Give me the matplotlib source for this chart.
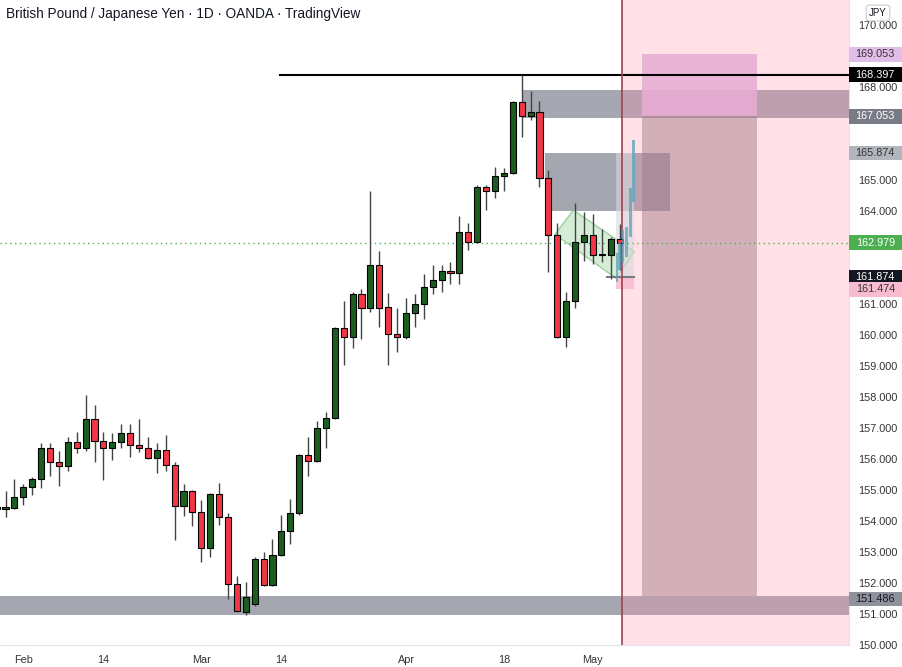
import matplotlib
matplotlib.use("Agg")
import matplotlib.pyplot as plt
from matplotlib.patches import Rectangle, Polygon
from matplotlib.transforms import blended_transform_factory

# daily GBPJPY bars, index 0 = Feb 1
bar_idx = list(range(-3, 68))
opens = [154.40, 154.38, 154.43, 154.78, 155.11, 155.34, 156.35, 155.89, 155.76, 156.54,
         156.35, 157.28, 156.58, 156.35, 156.54, 156.83, 156.44, 156.35, 156.03, 156.29,
         155.80, 154.49, 154.97, 154.29, 153.12, 154.86, 154.12, 151.97, 151.07, 151.33,
         152.77, 151.94, 152.90, 153.68, 154.27, 156.12, 155.95, 156.99, 157.31, 160.22,
         159.95, 161.32, 160.88, 162.26, 160.90, 160.02, 159.93, 160.72, 161.01, 161.56,
         161.77, 162.06, 161.99, 163.33, 163.01, 164.78, 164.65, 165.13, 165.22, 167.53,
         167.07, 167.20, 165.07, 163.23, 159.95, 161.10, 163.01, 163.23, 162.57, 162.57,
         163.09]
highs = [154.47, 154.97, 155.35, 155.19, 155.43, 156.51, 156.51, 156.25, 156.72, 156.86,
         158.06, 157.73, 156.86, 156.83, 157.13, 157.13, 157.29, 156.72, 156.51, 156.77,
         155.90, 155.18, 155.00, 154.68, 154.91, 155.24, 154.25, 152.23, 152.04, 152.85,
         152.99, 153.41, 154.19, 154.71, 156.15, 156.72, 157.24, 157.51, 160.25, 161.11,
         161.40, 161.49, 164.65, 162.71, 161.36, 160.87, 161.20, 161.31, 161.97, 162.26,
         162.26, 162.36, 163.85, 163.60, 164.84, 164.84, 165.43, 165.40, 167.56, 168.40,
         167.88, 167.55, 165.32, 163.60, 161.40, 164.25, 163.98, 163.90, 163.41, 163.15,
         163.58]
lows = [154.35, 154.12, 154.40, 154.52, 154.84, 155.07, 155.46, 155.14, 155.62, 156.19,
        156.26, 155.89, 155.32, 155.97, 156.37, 156.06, 156.24, 156.00, 155.54, 155.62,
        153.39, 154.17, 153.85, 152.69, 152.83, 153.87, 151.48, 151.05, 150.97, 151.27,
        151.90, 151.91, 152.88, 153.25, 154.19, 155.46, 155.89, 156.37, 157.28, 159.03,
        159.59, 159.86, 160.75, 160.27, 159.03, 159.45, 159.87, 160.27, 160.52, 161.32,
        161.40, 161.64, 161.64, 162.76, 162.98, 164.03, 164.41, 164.65, 165.19, 166.40,
        166.94, 164.78, 162.04, 159.92, 159.62, 160.88, 162.40, 162.29, 162.36, 161.80,
        162.10]
closes = [154.43, 154.44, 154.78, 155.11, 155.35, 156.35, 155.89, 155.76, 156.54, 156.35,
          157.28, 156.58, 156.35, 156.54, 156.83, 156.44, 156.35, 156.03, 156.29, 155.80,
          154.49, 154.97, 154.29, 153.12, 154.86, 154.12, 151.97, 151.10, 151.54, 152.77,
          151.94, 152.90, 153.68, 154.27, 156.12, 155.95, 156.99, 157.31, 160.22, 159.95,
          161.32, 160.88, 162.26, 160.88, 160.02, 159.93, 160.72, 161.01, 161.56, 161.77,
          162.06, 161.99, 163.33, 163.01, 164.78, 164.65, 165.13, 165.22, 167.53, 167.07,
          167.20, 165.07, 163.23, 159.95, 161.10, 163.01, 163.23, 162.57, 162.59, 163.09,
          162.98]

date_ticks = [0, 9, 20, 29, 43, 54, 64]
date_labels = ["Feb", "14", "Mar", "14", "Apr", "18", "May"]
# levels that sit under the price tags are left out
price_ticks = [150, 151, 152, 153, 154, 155, 156, 157, 158, 159, 160, 161,
               164, 165, 168, 170]

# drawings
resist_level = 168.397
last_price = 162.979
upper_zone = (167.0, 167.9)
mid_zone = (164.0, 165.874)
lower_zone = (150.97, 151.58)
flag = [(59.74, 163.25), (61.8, 164.03), (68.65, 162.69), (66.6, 161.83)]
cut_x = 67.27
target_box = (167.053, 169.053)
risk_box = (151.58, 167.053)
small_entry, small_stop, small_target = 161.874, 161.474, 165.874
proj_x = [66.7, 67.0, 67.4, 67.8, 68.2, 68.6]
proj_lo = [161.71, 162.10, 162.32, 162.52, 163.16, 164.29]
proj_hi = [162.65, 162.97, 163.39, 163.48, 164.74, 166.29]

price_tags = [
    (169.053, "169.053", "#e1bee7", "#333333"),
    (168.397, "168.397", "#000000", "white"),
    (167.053, "167.053", "#787b86", "white"),
    (165.874, "165.874", "#b2b5be", "#333333"),
    (162.979, "162.979", "#4caf50", "white"),
    (161.874, "161.874", "#131722", "white"),
    (161.474, "161.474", "#f8bbd0", "#333333"),
    (151.486, "151.486", "#8f929b", "#131722"),
]

plt.rcParams['font.family'] = ['Liberation Sans', 'DejaVu Sans']

fig = plt.figure(figsize=(9.03, 6.67), dpi=100)
ax = fig.add_axes([0, 22 / 667, 849 / 903, 645 / 667])
x0, x1 = -2.62, 92.78
ax.set_xlim(x0, x1)
ax.set_ylim(150.0, 170.81)

# position tool (big), under the zones
ax.add_patch(Rectangle((69.5, risk_box[0]), 12.9, risk_box[1] - risk_box[0],
                       fc="#c4bcc0", ec="none", zorder=0.5))

# gray zones
zone_kw = dict(fc="#6f7280", alpha=0.62, ec="none", zorder=1)
ax.add_patch(Rectangle((56, upper_zone[0]), x1 - 56, upper_zone[1] - upper_zone[0], **zone_kw))
ax.add_patch(Rectangle((58.6, mid_zone[0]), 14.1, mid_zone[1] - mid_zone[0], **zone_kw))
ax.add_patch(Rectangle((x0, lower_zone[0]), x1 - x0, lower_zone[1] - lower_zone[0], **zone_kw))

ax.add_patch(Rectangle((69.5, target_box[0]), 12.9, target_box[1] - target_box[0],
                       fc="#e0b8e6", alpha=0.85, ec="none", zorder=1.2))

# pink overlay after the cut line
ax.axvspan(cut_x, x1, color="#ff8ea6", alpha=0.26, zorder=1.4, lw=0)
ax.axvline(cut_x, color="#a04050", lw=1.2, zorder=2.6)

# flag channel
ax.add_patch(Polygon(flag, closed=True, fc="#c8e6c9", ec="#81c784", lw=1,
                     alpha=0.75, zorder=1.5))

# small position tool
ax.add_patch(Rectangle((66.6, small_entry), 2.0, small_target - small_entry,
                       fc="#d8d9de", alpha=0.6, ec="none", zorder=1.6))
ax.add_patch(Rectangle((66.6, small_stop), 2.0, small_entry - small_stop,
                       fc="#f8bbd0", alpha=0.85, ec="none", zorder=1.6))
ax.plot([65.6, 68.6], [small_entry, small_entry], color="#787b86", lw=1.5, zorder=1.7)

# resistance line and last price line
ax.plot([28.8, x1], [resist_level, resist_level], color="black", lw=1.5, zorder=2)
ax.axhline(last_price, color="#4caf50", lw=1.0, ls=(0, (1, 2.5)), zorder=2)

# candles
for i, o, h, l, c in zip(bar_idx, opens, highs, lows, closes):
    col = "#1b5e20" if c >= o else "#f23645"
    ax.vlines(i, l, h, color="#444444", lw=1, zorder=3)
    ax.add_patch(Rectangle((i - 0.34, min(o, c)), 0.68, max(abs(c - o), 0.04),
                           fc=col, ec="black", lw=0.8, zorder=3.2))

# projected bars
for x, lo, hi in zip(proj_x, proj_lo, proj_hi):
    ax.add_patch(Rectangle((x - 0.15, lo), 0.3, hi - lo, fc="#5aa3b9",
                           alpha=0.75, ec="none", zorder=4))

# axes styling
for s in ["top", "left"]:
    ax.spines[s].set_visible(False)
ax.spines["right"].set_color("#e0e3eb")
ax.spines["bottom"].set_color("#e0e3eb")
ax.yaxis.tick_right()
ax.set_yticks(price_ticks)
ax.set_yticklabels([f"{p:.3f}" for p in price_ticks], fontsize=7.8, color="#333333")
ax.tick_params(axis="y", length=0, pad=6.5)
ax.set_xticks(date_ticks)
ax.set_xticklabels(date_labels, fontsize=7.8, color="#333333")
ax.tick_params(axis="x", length=0, pad=7)

trans = blended_transform_factory(ax.transAxes, ax.transData)
for p, txt, bg, fg in price_tags:
    ax.add_patch(Rectangle((1.0, p - 0.24), 0.062, 0.48, transform=trans,
                           fc=bg, ec="none", clip_on=False, zorder=5))
    ax.text(1.031, p, txt, transform=trans, ha="center", va="center",
            fontsize=7.8, color=fg, zorder=6, clip_on=False)

fig.text(6 / 903, 1 - 14 / 667, "British Pound / Japanese Yen · 1D · OANDA · TradingView",
         fontsize=9.8, color="#131722", va="center", ha="left")
fig.text(878 / 903, 1 - 13 / 667, "JPY", fontsize=7, color="#131722", ha="center",
         va="center", bbox=dict(boxstyle="round,pad=0.3", fc="white", ec="#c8cad0", lw=0.8))

fig.savefig("out.png", dpi=100)
